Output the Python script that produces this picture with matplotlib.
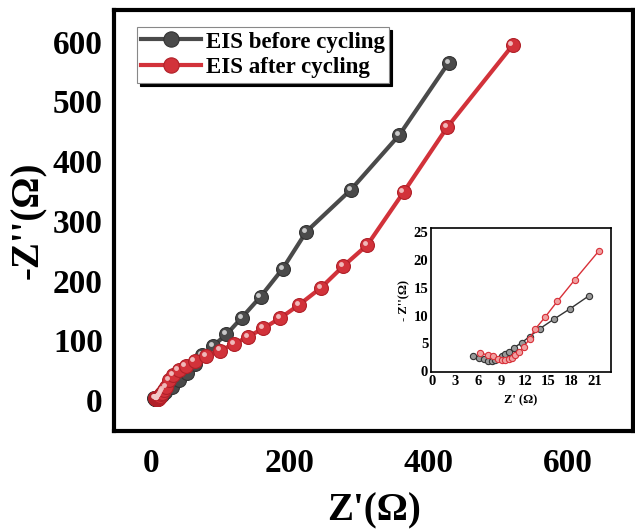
import matplotlib
matplotlib.use("Agg")
import matplotlib.pyplot as plt
import matplotlib.transforms as mtransforms

plt.rcParams['font.family'] = ['Liberation Serif', 'DejaVu Serif']

# ---- data ----
before_x = [5.3, 6.1, 6.7, 7.3, 7.7, 8.1, 9.0, 9.4, 10.0, 10.6, 11.6, 12.6, 13.9, 15.7, 17.8, 20.3,
            30, 40, 52, 63, 74, 89, 109, 131, 158, 190, 224, 288, 358, 429]
before_y = [2.7, 2.4, 2.1, 1.85, 1.8, 1.9, 2.7, 3.1, 3.5, 4.2, 5.1, 6.2, 7.6, 9.3, 11.2, 13.6,
            22, 33, 45, 60, 75, 90, 110, 138, 173, 220, 282, 352, 444, 565]
after_x = [6.2, 7.2, 7.9, 8.6, 9.0, 9.4, 9.9, 10.3, 10.7, 11.2, 11.9, 12.6, 13.3, 14.6, 16.2, 18.4, 21.5,
           26, 32, 40, 50, 63, 80, 100, 120, 140, 162, 186, 213, 245, 277, 312, 364, 427, 521]
after_y = [3.2, 2.9, 2.6, 2.2, 2.0, 2.0, 2.1, 2.4, 2.8, 3.4, 4.4, 5.8, 7.5, 9.7, 12.6, 16.4, 21.6,
           33, 42, 50, 57, 65, 74, 83, 94, 106, 120, 137, 159, 188, 224, 260, 348, 457, 594]

inset_before_x = before_x[:16]
inset_before_y = before_y[:16]
inset_after_x = after_x[:17]
inset_after_y = after_y[:17]

labels = ["EIS before cycling", "EIS after cycling"]
main_xticks = [0, 200, 400, 600]
main_yticks = [0, 100, 200, 300, 400, 500, 600]
inset_xticks = [0, 3, 6, 9, 12, 15, 18, 21]
inset_yticks = [0, 5, 10, 15, 20, 25]

c_black = '#4a4a4a'
c_red = '#d2323a'

fig = plt.figure(figsize=(6.35, 5.29), dpi=100)
ax = fig.add_axes([0.1795, 0.185, 0.818, 0.796])

hl = mtransforms.ScaledTranslation(-1.5/72, 1.5/72, fig.dpi_scale_trans)

ax.plot(before_x, before_y, '-o', color=c_black, lw=3, ms=10, mfc=c_black, mec='#333333',
        mew=0.8, label=labels[0], zorder=3)
ax.plot(before_x, before_y, 'o', color='#d8d8d8', ms=3.5, mew=0, alpha=0.9,
        transform=ax.transData + hl, zorder=4)
ax.plot(after_x, after_y, '-o', color=c_red, lw=3, ms=10, mfc=c_red, mec='#b02028',
        mew=0.8, label=labels[1], zorder=5)
ax.plot(after_x, after_y, 'o', color='#f4c8c8', ms=3.5, mew=0, alpha=0.9,
        transform=ax.transData + hl, zorder=6)

ax.set_xlim(-53, 695)
ax.set_ylim(-52, 653)
ax.set_xticks(main_xticks)
ax.set_yticks(main_yticks)
ax.tick_params(length=0, labelsize=24, pad=12)
ax.tick_params(axis='y', pad=8)
for t in ax.get_xticklabels() + ax.get_yticklabels():
    t.set_fontweight('bold')
for s in ax.spines.values():
    s.set_linewidth(3)

ax.set_xlabel("Z'(Ω)", fontsize=28, fontweight='bold', labelpad=10)
ax.set_ylabel("-Z''(Ω)", fontsize=28, fontweight='bold', labelpad=4)

leg = ax.legend(loc='upper left', bbox_to_anchor=(0.044, 0.96), prop={'size': 16.5, 'weight': 'bold'},
                frameon=True, fancybox=False, shadow={'color': 'black', 'alpha': 1},
                handlelength=2.6, handletextpad=0.2, borderpad=0.2, labelspacing=0.2,
                borderaxespad=0, markerscale=1.1)
leg.get_frame().set_edgecolor('#888888')
leg.get_frame().set_linewidth(0.8)

# ---- inset ----
axi = fig.add_axes([431/635, 1 - 372/529, 180/635, 144/529])
axi.plot(inset_before_x, inset_before_y, '-o', color='#333333', lw=1, ms=4.5, mfc='#9a9a9a',
         mec='#333333', mew=0.8)
axi.plot(inset_after_x, inset_after_y, '-o', color='#d83038', lw=1, ms=4.5, mfc='#f0a0a0',
         mec='#d83038', mew=0.8)
axi.set_xlim(-0.1, 23.1)
axi.set_ylim(-0.2, 25.8)
axi.set_xticks(inset_xticks)
axi.set_yticks(inset_yticks)
axi.tick_params(length=0, labelsize=10.5, pad=2)
for t in axi.get_xticklabels() + axi.get_yticklabels():
    t.set_fontweight('bold')
for s in axi.spines.values():
    s.set_linewidth(1.2)
axi.set_xlabel("Z' (Ω)", fontsize=9, fontweight='bold', labelpad=5)
axi.set_ylabel("- Z''(Ω)", fontsize=9, fontweight='bold', labelpad=2)

fig.savefig("out.png", dpi=100)
